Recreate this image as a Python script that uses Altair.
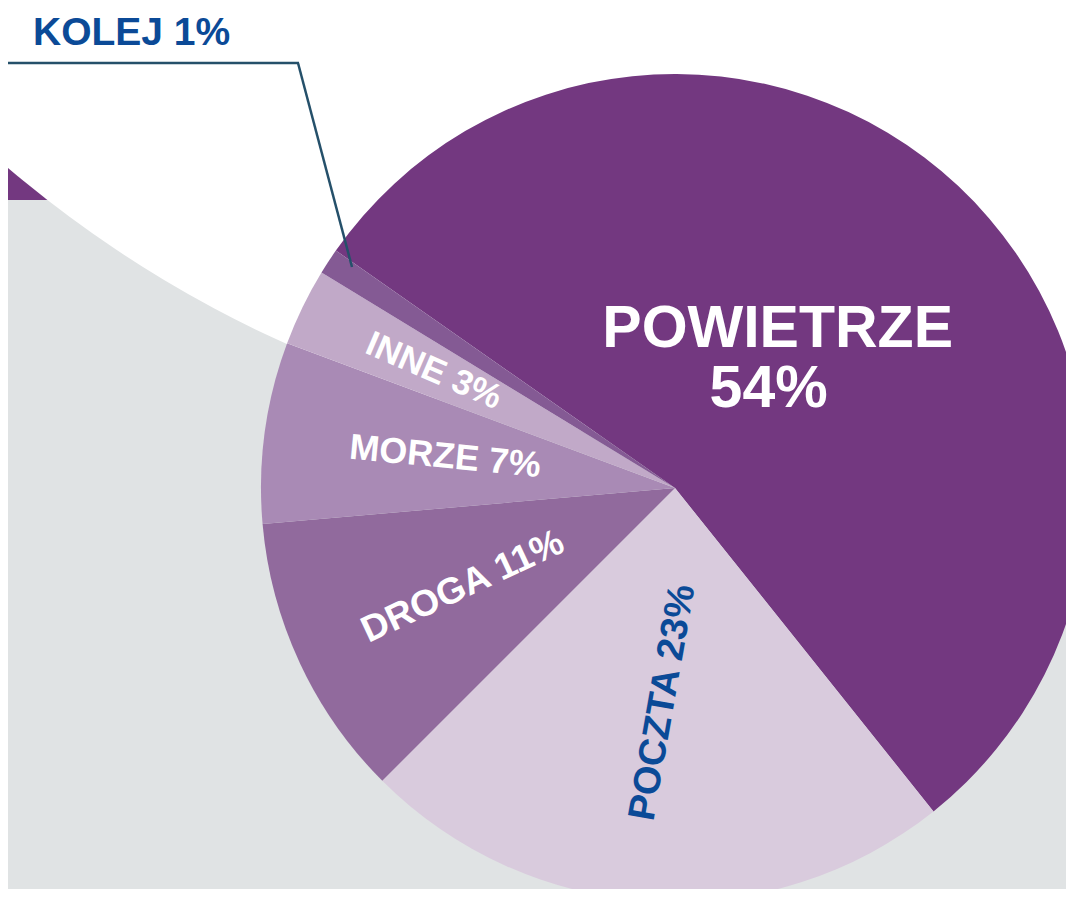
import math
import altair as alt
import pandas as pd

# ---------------- data ----------------
categories = ["POWIETRZE", "POCZTA", "DROGA", "MORZE", "INNE", "KOLEJ"]
shares = [54, 23, 11, 7, 3, 1]

# ---------------- styles / layout ----------------
slice_colors = ["#733880", "#d9cbdd", "#916a9d", "#a98ab5", "#c1a9c8", "#845a94"]
label_radius = [150, 215, 234, 232, 268, 0]
label_angle = [0, -80, -25, 5.5, 23.5, 0]
label_size = [59, 38, 37, 36, 35, 1]
label_fill = ["#ffffff", "#0b4a97", "#ffffff", "#ffffff", "#ffffff", "#ffffff"]

W, H = 1058, 881
CX, CY, R = 667, 480, 414
START_DEG = -55
FONT = "Liberation Sans"

df = pd.DataFrame({
    "category": categories,
    "share": shares,
    "idx": list(range(len(categories))),
    "lr": label_radius,
    "la": [(a + 360) % 360 for a in label_angle],
    "ls": label_size,
    "lf": label_fill,
})

start = math.radians(START_DEG)
theta_scale = alt.Scale(domain=[0, sum(shares)], range=[start, start + 2 * math.pi])
order = alt.Order("idx:Q")

one = alt.Data(values=[{"k": 1}])

purple_band = alt.Chart(one).mark_rect(color="#733880").encode(
    x=alt.value(0), x2=alt.value(W), y=alt.value(0), y2=alt.value(192))
grey_band = alt.Chart(one).mark_rect(color="#e0e3e4").encode(
    x=alt.value(0), x2=alt.value(W), y=alt.value(192), y2=alt.value(H + 20))
white_disc = alt.Chart(one).mark_arc(color="#ffffff", radius=1167, theta=0, theta2=2 * math.pi).encode(
    x=alt.value(756), y=alt.value(-729))

pie = alt.Chart(df).mark_arc(outerRadius=R).encode(
    theta=alt.Theta("share:Q", stack=True, scale=theta_scale),
    order=order,
    color=alt.Color("category:N", scale=alt.Scale(domain=categories, range=slice_colors), legend=None),
    x=alt.value(CX), y=alt.value(CY),
)

label_base = alt.Chart(df).transform_window(
    cum="sum(share)", sort=[alt.SortField("idx", order="ascending")]
).transform_calculate(
    mid=alt.datum.cum - alt.datum.share / 2,
    full=alt.datum.category + " " + alt.datum.share + "%",
    pct=alt.datum.share + "%",
)

def label_enc(field):
    return dict(
        theta=alt.Theta("mid:Q", stack=False, scale=theta_scale),
        radius=alt.Radius("lr:Q", scale=None, stack=False),
        angle=alt.Angle("la:Q", scale=None),
        size=alt.Size("ls:Q", scale=None),
        fill=alt.Fill("lf:N", scale=None),
        text=alt.Text(f"{field}:N"),
        x=alt.value(CX), y=alt.value(CY),
    )

inner_labels = label_base.transform_filter(
    (alt.datum.category != "POWIETRZE") & (alt.datum.category != "KOLEJ")
).mark_text(
    font=FONT, fontWeight="bold", align="center", baseline="middle",
).encode(**label_enc("full"))

main_name = label_base.transform_filter(
    alt.datum.category == "POWIETRZE"
).mark_text(
    font=FONT, fontWeight="bold", align="center", baseline="middle", dx=0, dy=-50,
).encode(**label_enc("category"))

main_pct = label_base.transform_filter(
    alt.datum.category == "POWIETRZE"
).mark_text(
    font=FONT, fontWeight="bold", align="center", baseline="middle", dx=-9, dy=10,
).encode(**label_enc("pct"))

kolej = alt.Chart(df).transform_filter(
    alt.datum.category == "KOLEJ"
).transform_calculate(
    t=alt.datum.category + " " + alt.datum.share + "%"
).mark_text(
    font=FONT, fontWeight="bold", align="left", baseline="alphabetic", fontSize=39, color="#0b4a97"
).encode(text="t:N", x=alt.value(25), y=alt.value(37))

leader1 = alt.Chart(one).mark_rule(color="#25506a", strokeWidth=2.5).encode(
    x=alt.value(-4), x2=alt.value(291), y=alt.value(55), y2=alt.value(55))
leader2 = alt.Chart(one).mark_rule(color="#25506a", strokeWidth=2.5).encode(
    x=alt.value(290), x2=alt.value(344), y=alt.value(55), y2=alt.value(259))

chart = alt.layer(
    purple_band, grey_band, white_disc, pie, inner_labels, main_name, main_pct,
    kolej, leader1, leader2
).properties(
    width=W, height=H, padding=0,
    autosize=alt.AutoSizeParams(type="none"),
).configure_view(strokeWidth=0)

chart.save("out.html", embed_options={"renderer": "svg", "actions": False})
